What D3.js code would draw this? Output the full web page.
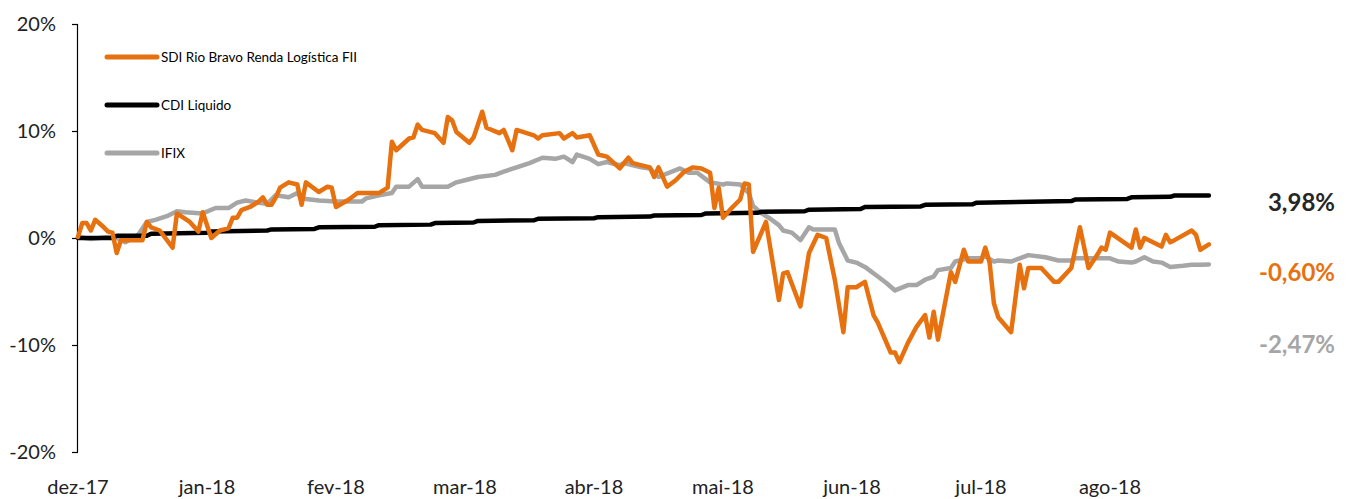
<!DOCTYPE html>
<html>
<head>
<meta charset="utf-8">
<script src="https://cdn.jsdelivr.net/npm/d3@7"></script>
<style>
  html, body { margin: 0; padding: 0; background: #fff; }
  svg { display: block; font-family: Lato, "Open Sans", sans-serif; }
</style>
</head>
<body>
<svg id="chart" width="1350" height="499"></svg>
<script>
// --- dados (dia corrido desde o início, retorno acumulado em %) ---
const monthLabels = ['dez-17', 'jan-18', 'fev-18', 'mar-18', 'abr-18', 'mai-18', 'jun-18', 'jul-18', 'ago-18'];
const yTicks = [-20, -10, 0, 10, 20];

const sdiSeries = [
  [0, 0.1], [1, 1.4], [2, 1.4], [3, 0.7], [4, 1.7], [6, 1.0], [7, 0.6], [8, 0.5], [9, -1.4], [10, -0.2],
  [15, -0.2], [16, 1.5], [17, 1.0], [19, 0.7], [22, -0.9], [23, 2.3], [26, 1.5], [28, 0.6], [29, 2.4], [31, 0.0],
  [33, 0.7], [35, 0.9], [36, 1.9], [37, 1.9], [38, 2.6], [40, 2.9], [42, 3.4], [43, 3.8], [44, 3.1], [45, 3.1],
  [46, 3.8], [47, 4.7], [49, 5.2], [51, 5.0], [52, 3.1], [53, 5.2], [56, 4.3], [58, 4.8], [59, 4.7], [60, 2.9],
  [63, 3.6], [65, 4.2], [70, 4.2], [72, 4.7], [73, 9.0], [74, 8.2], [77, 9.3], [78, 9.4], [79, 10.6], [80, 10.1],
  [83, 9.8], [85, 8.9], [86, 11.3], [87, 11.0], [88, 9.9], [91, 8.9], [92, 9.4], [94, 11.8], [95, 10.3], [98, 9.8],
  [99, 10.1], [101, 8.2], [102, 10.1], [106, 9.6], [107, 9.3], [108, 9.6], [112, 9.8], [113, 9.3], [115, 9.8], [116, 9.4],
  [119, 9.6], [121, 7.8], [123, 7.6], [126, 6.5], [128, 7.5], [129, 7.0], [133, 6.6], [134, 5.7], [135, 6.6], [137, 4.8],
  [139, 5.4], [141, 6.2], [143, 6.6], [145, 6.5], [147, 6.1], [148, 2.8], [149, 4.7], [150, 1.9], [152, 2.8], [154, 3.6],
  [155, 5.1], [156, 5.0], [157, -1.3], [160, 1.5], [163, -5.8], [164, -3.3], [165, -3.2], [168, -6.4], [170, -1.4], [172, 0.3],
  [174, 0.0], [176, -3.9], [178, -8.8], [179, -4.6], [181, -4.6], [183, -4.1], [185, -7.2], [186, -7.9], [189, -10.7], [190, -10.7],
  [191, -11.6], [193, -9.8], [195, -8.3], [197, -7.2], [198, -9.3], [199, -6.9], [200, -9.5], [203, -3.2], [204, -4.1], [206, -1.1],
  [207, -2.2], [210, -2.2], [211, -0.9], [212, -2.3], [213, -6.1], [214, -7.4], [217, -8.8], [219, -2.5], [220, -4.7], [221, -2.8],
  [224, -2.8], [227, -4.1], [228, -4.1], [231, -2.8], [233, 1.0], [235, -2.8], [237, -1.6], [238, -0.9], [239, -1.1], [240, 0.5],
  [245, -0.9], [246, 0.8], [247, -0.9], [248, 0.0], [252, -0.8], [253, 0.3], [254, -0.4], [255, -0.2], [259, 0.7], [260, 0.3],
  [261, -1.1], [263, -0.6]
];

// CDI sobe em pequenos degraus
const cdiSeries = [
  [0, 0.0], [8, 0.0], [9, 0.2], [16, 0.2], [17, 0.4], [30, 0.5], [31, 0.6], [44, 0.7], [45, 0.8], [55, 0.85],
  [56, 1.0], [69, 1.05], [70, 1.2], [82, 1.25], [83, 1.4], [92, 1.45], [93, 1.6], [106, 1.65], [107, 1.8], [120, 1.85],
  [121, 1.95], [133, 2.0], [134, 2.1], [145, 2.15], [146, 2.3], [158, 2.35], [159, 2.45], [169, 2.5], [170, 2.65], [182, 2.7],
  [183, 2.9], [196, 2.95], [197, 3.1], [208, 3.15], [209, 3.3], [231, 3.45], [232, 3.6], [244, 3.65], [245, 3.8], [254, 3.85],
  [255, 3.97], [263, 3.98]
];

const ifixSeries = [
  [0, 0.1], [3, -0.1], [7, 0.1], [9, 0.0], [11, -0.4], [14, 0.3], [16, 1.5], [18, 1.7], [21, 2.1], [23, 2.5],
  [25, 2.4], [29, 2.3], [32, 2.8], [35, 2.8], [37, 3.3], [39, 3.5], [42, 3.3], [44, 3.2], [46, 4.0], [49, 3.8],
  [51, 4.2], [52, 3.7], [56, 3.5], [60, 3.4], [66, 3.4], [67, 3.7], [70, 4.0], [73, 4.2], [74, 4.8], [77, 4.8],
  [79, 5.5], [80, 4.8], [86, 4.8], [88, 5.2], [90, 5.4], [93, 5.7], [97, 5.9], [99, 6.2], [102, 6.6], [105, 7.0],
  [108, 7.5], [111, 7.4], [113, 7.6], [115, 7.1], [116, 7.8], [119, 7.4], [121, 6.9], [123, 7.1], [126, 6.8], [127, 7.0],
  [131, 6.6], [133, 6.5], [135, 5.7], [140, 6.5], [142, 6.1], [144, 6.1], [147, 5.2], [150, 5.0], [151, 5.1], [154, 5.0],
  [156, 4.2], [157, 3.0], [159, 2.3], [161, 1.8], [163, 1.2], [164, 0.7], [166, 0.5], [168, -0.2], [170, 1.0], [171, 0.8],
  [176, 0.8], [177, -0.5], [179, -2.1], [181, -2.3], [183, -2.7], [186, -3.6], [188, -4.2], [190, -4.9], [193, -4.4], [195, -4.4],
  [197, -3.9], [199, -3.6], [200, -3.0], [203, -2.8], [204, -2.2], [207, -1.9], [210, -1.9], [211, -1.7], [213, -2.2], [214, -2.1],
  [217, -2.2], [219, -1.9], [221, -1.6], [225, -1.8], [228, -2.1], [231, -2.1], [232, -1.9], [235, -1.9], [240, -1.9], [242, -2.2],
  [245, -2.3], [246, -2.2], [248, -1.8], [250, -2.2], [252, -2.3], [254, -2.7], [257, -2.6], [259, -2.5], [261, -2.5], [263, -2.47]
];

const seriesDefs = [
  { key: 'sdi',  label: 'SDI Rio Bravo Renda Logística FII', data: sdiSeries,  color: '#E8710F', last: '-0,60%' },
  { key: 'cdi',  label: 'CDI Liquido',                       data: cdiSeries,  color: '#000000', last: '3,98%' },
  { key: 'ifix', label: 'IFIX',                              data: ifixSeries, color: '#A6A6A6', last: '-2,47%' }
];

// --- layout ---
const svg = d3.select('#chart');
const X0 = 78;
const DAYS_PER_MONTH = 30;

const x = d3.scaleLinear().domain([0, 263]).range([X0, X0 + 263 * 4.3]);
const y = d3.scaleLinear().domain([-20, 20]).range([452, 24]);

// eixo Y
const yAxis = svg.append('g')
  .attr('transform', `translate(${X0},0)`)
  .call(d3.axisLeft(y).tickValues(yTicks).tickSize(6).tickPadding(16).tickFormat(d => d + '%'));
yAxis.select('.domain').attr('stroke', '#000').attr('stroke-width', 1.2).attr('d', `M-0.5,${y(20)}V${y(-20)}`);
yAxis.selectAll('.tick line').attr('stroke', '#000').attr('stroke-width', 1.2);
yAxis.selectAll('.tick text')
  .attr('font-size', 20)
  .attr('fill', '#222')
  .attr('font-family', 'Lato, sans-serif');

// rótulos dos meses (sem linha de eixo)
svg.append('g')
  .selectAll('text')
  .data(monthLabels)
  .join('text')
  .attr('x', (d, i) => x(i * DAYS_PER_MONTH))
  .attr('y', 494)
  .attr('text-anchor', 'middle')
  .attr('font-size', 20)
  .attr('fill', '#222')
  .text(d => d);

// linhas
const line = d3.line().x(d => x(d[0])).y(d => y(d[1]));
const drawOrder = ['ifix', 'cdi', 'sdi'];
drawOrder.forEach(k => {
  const s = seriesDefs.find(d => d.key === k);
  svg.append('path')
    .datum(s.data)
    .attr('fill', 'none')
    .attr('stroke', s.color)
    .attr('stroke-width', 4.5)
    .attr('stroke-linejoin', 'round')
    .attr('stroke-linecap', 'round')
    .attr('d', line);
});

// legenda
const legendY = [57, 105, 153];
const legend = svg.append('g')
  .selectAll('g')
  .data(seriesDefs)
  .join('g')
  .attr('transform', (d, i) => `translate(107,${legendY[i]})`);
legend.append('line')
  .attr('x1', 0).attr('x2', 50)
  .attr('stroke', d => d.color)
  .attr('stroke-width', 5)
  .attr('stroke-linecap', 'round');
legend.append('text')
  .attr('x', 54)
  .attr('dy', '0.35em')
  .attr('font-size', 13.5)
  .attr('fill', '#000')
  .text(d => d.label);

// valores finais à direita
const endLabelY = { cdi: 203, sdi: 273, ifix: 345 };
svg.append('g')
  .selectAll('text')
  .data(seriesDefs)
  .join('text')
  .attr('x', 1335)
  .attr('y', d => endLabelY[d.key])
  .attr('dy', '0.35em')
  .attr('text-anchor', 'end')
  .attr('font-size', 24)
  .attr('font-weight', 'bold')
  .attr('fill', d => d.key === 'cdi' ? '#262626' : d.color)
  .text(d => d.last);
</script>
</body>
</html>
